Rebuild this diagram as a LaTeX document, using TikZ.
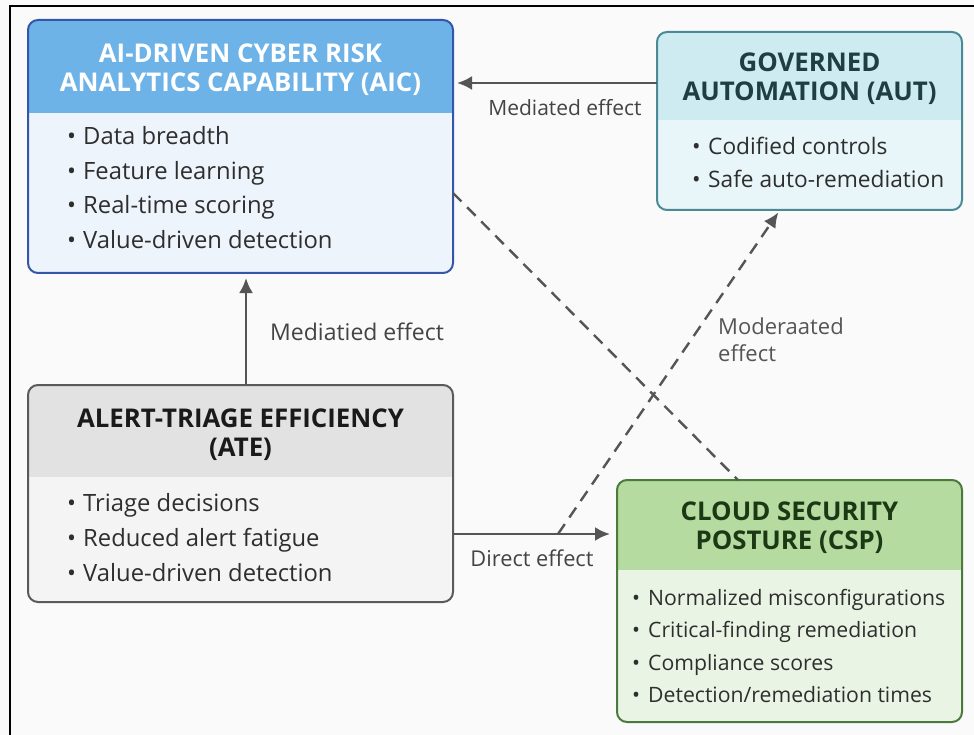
\documentclass[tikz,border=0pt]{standalone}
\usepackage{fontspec}
\setmainfont{Open Sans}
\usetikzlibrary{arrows.meta,calc}
\definecolor{bgc}{HTML}{FAFAFA}
\definecolor{aicbody}{HTML}{EEF4FB}
\definecolor{aichead}{HTML}{6DB3E8}
\definecolor{aicline}{HTML}{3556A8}
\definecolor{aictext}{HTML}{FFFFFF}
\definecolor{autbody}{HTML}{E8F6F9}
\definecolor{authead}{HTML}{CDEBF1}
\definecolor{autline}{HTML}{4A8A94}
\definecolor{auttext}{HTML}{1F3D45}
\definecolor{atebody}{HTML}{F4F4F4}
\definecolor{atehead}{HTML}{E2E2E2}
\definecolor{ateline}{HTML}{5A5A5A}
\definecolor{atetext}{HTML}{1A1A1A}
\definecolor{cspbody}{HTML}{EAF4E4}
\definecolor{csphead}{HTML}{B6DBA0}
\definecolor{cspline}{HTML}{4A7A3E}
\definecolor{csptext}{HTML}{1C3814}
\definecolor{arrc}{HTML}{555555}
\definecolor{labc}{HTML}{444444}
\definecolor{bulc}{HTML}{2E2E2E}
\tikzset{
  boxbase/.style={inner sep=0pt, outer sep=0pt, rounded corners=10pt},
  boxtitle/.style={inner sep=0pt, align=center, font=\fontsize{25.8}{29}\selectfont\bfseries},
  bul/.style={inner sep=0pt, anchor=base west, text=bulc, font=\fontsize{23.8}{24}\selectfont},
  bulmd/.style={bul, font=\fontsize{22.7}{24}\selectfont},
  bulsm/.style={bul, font=\fontsize{21.2}{24}\selectfont},
  lab/.style={inner sep=0pt, text=labc, font=\fontsize{21}{26}\selectfont},
  solidarrow/.style={draw=arrc, line width=2.6pt, -{Latex[length=15pt,width=14pt]}},
  dasharrow/.style={draw=arrc, line width=2.4pt, dash pattern=on 12pt off 8pt, -{Latex[length=15pt,width=14pt]}},
  dashline/.style={draw=arrc, line width=2.4pt, dash pattern=on 12pt off 8pt}
}
\newcommand\drawcbox[7]{%
  \node[boxbase, fill=#7body, minimum width={#4-#2}, minimum height={#5-#3}] (#1) at ({(#2+#4)/2},{(#3+#5)/2}) {};
  \begin{scope}
    \clip[rounded corners=10pt] (#1.north west) rectangle (#1.south east);
    \fill[#7head] (#1.north west) rectangle (#4,#6);
  \end{scope}
  \draw[#7line, line width=2pt, rounded corners=10pt] (#1.north west) rectangle (#1.south east);
}
\newcommand\bl[1]{\makebox[16pt][l]{\textbullet}#1}
\begin{document}
\begin{tikzpicture}[x=1pt,y=-1pt]
\useasboundingbox (0,0) rectangle (974,735);
\fill[bgc] (0,0) rectangle (974,735);
\draw[black, line width=1.6pt] (10,736) -- (10,6) -- (975,6);

% boxes
\drawcbox{aic}{28}{20}{453}{273}{113}{aic}
\drawcbox{aut}{657}{32}{962}{210}{120}{aut}
\drawcbox{ate}{28}{385}{453}{602}{477}{ate}
\drawcbox{csp}{617}{480}{962}{722}{570}{csp}

% titles
\node[boxtitle, text=aictext] (aict) at (240.5,70) {AI-DRIVEN CYBER RISK\\ANALYTICS CAPABILITY (AIC)};
\node[boxtitle, text=auttext] (autt) at (809.5,79) {GOVERNED\\AUTOMATION (AUT)};
\node[boxtitle, text=atetext] (atet) at (240.5,435) {ALERT-TRIAGE EFFICIENCY\\(ATE)};
\node[boxtitle, text=csptext] (cspt) at (789.5,528) {CLOUD SECURITY\\POSTURE (CSP)};

% bullets
\node[bul] (aicb1) at (67,145) {\bl{Data breadth}};
\node[bul] (aicb2) at (67,180) {\bl{Feature learning}};
\node[bul] (aicb3) at (67,214) {\bl{Real-time scoring}};
\node[bul] (aicb4) at (67,249) {\bl{Value-driven detection}};
\node[bulmd] (autb1) at (692,155) {\bl{Codified controls}};
\node[bulmd] (autb2) at (692,188) {\bl{Safe auto-remediation}};
\node[bul] (ateb1) at (67,511) {\bl{Triage decisions}};
\node[bul] (ateb2) at (67,546) {\bl{Reduced alert fatigue}};
\node[bul] (ateb3) at (67,581) {\bl{Value-driven detection}};
\node[bulsm] (cspb1) at (632,605) {\bl{Normalized misconfigurations}};
\node[bulsm] (cspb2) at (632,637) {\bl{Critical-finding remediation}};
\node[bulsm] (cspb3) at (632,670) {\bl{Compliance scores}};
\node[bulsm] (cspb4) at (632,702) {\bl{Detection/remediation times}};

% helper coordinates
\coordinate (yA) at (0,83);
\coordinate (yD) at (0,534);
\coordinate (yS) at (0,193);
\coordinate (xS) at (738,0);
\coordinate (xM) at (780,0);
\coordinate (mstart) at (558,534);

% connectors
\draw[solidarrow, shorten >=4pt] (aut.west |- yA) -- (aic.east |- yA);
\draw[solidarrow, shorten >=5pt] ([xshift=5.5pt]ate.north) -- ([xshift=5.5pt]aic.south);
\draw[solidarrow, shorten >=7pt] (ate.east |- yD) -- (csp.west |- yD);
\draw[dashline] (aic.east |- yS) -- (csp.north -| xS);
\draw[dasharrow, shorten >=3pt] (mstart) -- (aut.south -| xM);

% labels
\node[lab] (lmed1) at (565,108) {Mediated effect};
\node[lab, anchor=west, font=\fontsize{23}{26}\selectfont] (lmed2) at (270,332) {Mediatied effect};
\node[lab, font=\fontsize{21.8}{26}\selectfont] (ldir) at (532,558) {Direct effect};
\node[lab, anchor=north west, align=left, text=arrc, font=\fontsize{22}{27}\selectfont] (lmod) at (718,318) {Moderaated\\effect};
\end{tikzpicture}
\end{document}
